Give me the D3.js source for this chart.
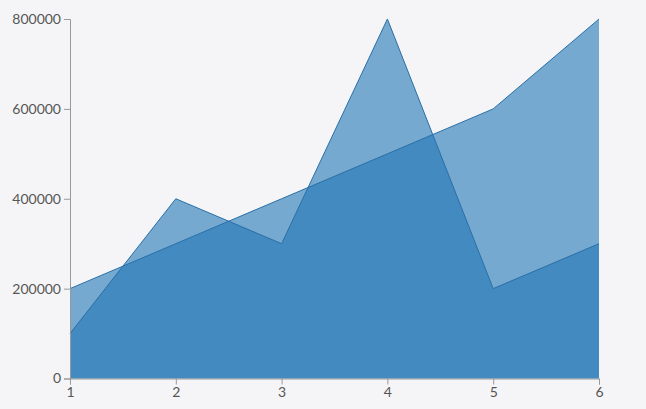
<!DOCTYPE html>
<html><head><meta charset="utf-8">
<script src="https://cdn.jsdelivr.net/npm/d3@7"></script>
<style>
html,body{margin:0;padding:0;background:#f5f5f7;}
svg{display:block;font-family:Lato,sans-serif;}
</style></head>
<body><svg id="c" width="646" height="409"></svg>
<script>
const xValues = [1, 2, 3, 4, 5, 6];
const seriesA = [200000, 300000, 400000, 500000, 600000, 800000];
const seriesB = [100000, 400000, 300000, 800000, 200000, 300000];
const yTicks = [0, 200000, 400000, 600000, 800000];

const W = 646, H = 409, m = {l: 70, r: 47, t: 19, b: 30.5};
const svg = d3.select('#c');
const x = d3.scaleLinear().domain([1, 6]).range([m.l, W - m.r]);
const y = d3.scaleLinear().domain([0, 800000]).range([H - m.b, m.t]);

const area = d3.area().x((d, i) => x(xValues[i])).y0(y(0)).y1(d => y(d));
const line = d3.line().x((d, i) => x(xValues[i])).y(d => y(d));

[seriesA, seriesB].forEach(s => {
  svg.append('path').attr('d', area(s)).attr('fill', '#1f77b4').attr('fill-opacity', 0.6);
});
[seriesA, seriesB].forEach(s => {
  svg.append('path').attr('d', line(s)).attr('fill', 'none').attr('stroke', '#2a6fa8').attr('stroke-width', 1);
});

const gx = svg.append('g').attr('transform', `translate(0,${H - m.b})`)
  .call(d3.axisBottom(x).tickValues(xValues).tickFormat(d3.format('d')));
const gy = svg.append('g').attr('transform', `translate(${m.l},0)`)
  .call(d3.axisLeft(y).tickValues(yTicks).tickFormat(d3.format('d')));
[gx, gy].forEach(g => {
  g.selectAll('path,line').attr('stroke', '#999');
  g.selectAll('text').attr('fill', '#555').style('font-size', '14px').style('font-family', 'Lato, sans-serif');
});
</script></body></html>
